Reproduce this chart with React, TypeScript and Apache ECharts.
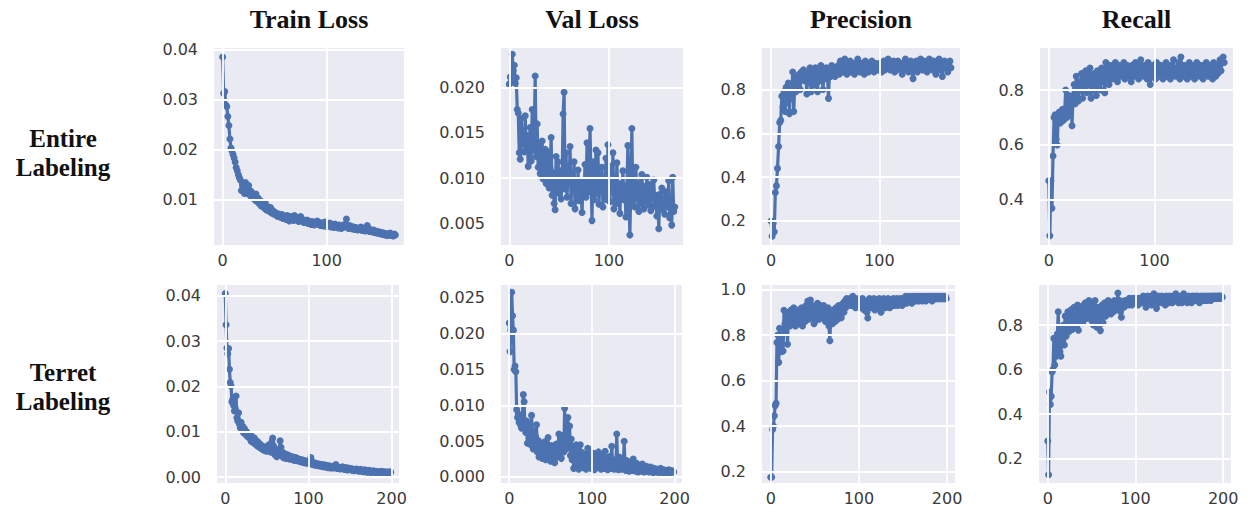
import React, { useEffect, useRef } from "react";
import * as echarts from "echarts";

// ---- Data (one value per epoch) ----
const colTitles = ["Train Loss", "Val Loss", "Precision", "Recall"];
const rowTitles = ["Entire\nLabeling", "Terret\nLabeling"];

const entireTrainLoss = [
  0.0385, 0.0312, 0.0316, 0.0289, 0.0286, 0.0266, 0.0248, 0.0221, 0.0203, 0.0197,
  0.0190, 0.0183, 0.0175, 0.0164, 0.0158, 0.0150, 0.0144, 0.0139, 0.0118, 0.0131,
  0.0125, 0.0112, 0.0134, 0.0121, 0.0113, 0.0128, 0.0109, 0.0117, 0.0104, 0.0112,
  0.0108, 0.0099, 0.0111, 0.0096, 0.0103, 0.0092, 0.0098, 0.0087, 0.0095, 0.0090,
  0.0083, 0.0093, 0.0079, 0.0086, 0.0081, 0.0076, 0.0084, 0.0073, 0.0078, 0.0071,
  0.0075, 0.0069, 0.0072, 0.0066, 0.0071, 0.0068, 0.0064, 0.0070, 0.0062, 0.0067,
  0.0065, 0.0060, 0.0068, 0.0063, 0.0057, 0.0066, 0.0061, 0.0064, 0.0058, 0.0068,
  0.0062, 0.0059, 0.0064, 0.0056, 0.0061, 0.0066, 0.0057, 0.0060, 0.0054, 0.0058,
  0.0055, 0.0059, 0.0052, 0.0057, 0.0054, 0.0050, 0.0056, 0.0053, 0.0049, 0.0055,
  0.0052, 0.0057, 0.0050, 0.0054, 0.0048, 0.0053, 0.0051, 0.0047, 0.0055, 0.0050,
  0.0046, 0.0052, 0.0049, 0.0053, 0.0045, 0.0050, 0.0047, 0.0044, 0.0051, 0.0046,
  0.0048, 0.0043, 0.0049, 0.0045, 0.0042, 0.0047, 0.0044, 0.0050, 0.0046, 0.0061,
  0.0045, 0.0042, 0.0048, 0.0043, 0.0046, 0.0041, 0.0045, 0.0040, 0.0044, 0.0042,
  0.0039, 0.0043, 0.0040, 0.0045, 0.0038, 0.0042, 0.0039, 0.0037, 0.0041, 0.0048,
  0.0038, 0.0036, 0.0040, 0.0037, 0.0035, 0.0039, 0.0034, 0.0037, 0.0033, 0.0036,
  0.0032, 0.0035, 0.0031, 0.0034, 0.0030, 0.0033, 0.0029, 0.0032, 0.0028, 0.0031,
  0.0029, 0.0033, 0.0028, 0.0030, 0.0027, 0.0031, 0.0029,
];

const entireValLoss = [
  0.0204, 0.0212, 0.0206, 0.0237, 0.0219, 0.0225, 0.0205, 0.0211, 0.0176, 0.0172,
  0.0128, 0.0121, 0.0166, 0.0138, 0.0152, 0.0129, 0.0169, 0.0133, 0.0147, 0.0113,
  0.0142, 0.0156, 0.0119, 0.0176, 0.0131, 0.0148, 0.0213, 0.0124, 0.0160, 0.0112,
  0.0138, 0.0105, 0.0126, 0.0141, 0.0099, 0.0122, 0.0132, 0.0094, 0.0117, 0.0129,
  0.0089, 0.0111, 0.0145, 0.0081, 0.0106, 0.0072, 0.0065, 0.0124, 0.0091, 0.0118,
  0.0083, 0.0108, 0.0077, 0.0096, 0.0171, 0.0195, 0.0088, 0.0128, 0.0079, 0.0112,
  0.0094, 0.0135, 0.0072, 0.0101, 0.0087, 0.0118, 0.0066, 0.0092, 0.0083, 0.0109,
  0.0075, 0.0097, 0.0088, 0.0062, 0.0094, 0.0081, 0.0115, 0.0079, 0.0139, 0.0093,
  0.0085, 0.0155, 0.0102, 0.0053, 0.0118, 0.0076, 0.0097, 0.0131, 0.0083, 0.0128,
  0.0071, 0.0104, 0.0089, 0.0112, 0.0068, 0.0095, 0.0082, 0.0122, 0.0076, 0.0137,
  0.0091, 0.0074, 0.0113, 0.0085, 0.0128, 0.0066, 0.0098, 0.0079, 0.0117, 0.0072,
  0.0089, 0.0061, 0.0094, 0.0083, 0.0108, 0.0076, 0.0088, 0.0057, 0.0092, 0.0136,
  0.0081, 0.0037, 0.0090, 0.0155, 0.0074, 0.0098, 0.0068, 0.0112, 0.0079, 0.0087,
  0.0063, 0.0095, 0.0072, 0.0104, 0.0081, 0.0066, 0.0091, 0.0075, 0.0101, 0.0083,
  0.0070, 0.0093, 0.0064, 0.0088, 0.0078, 0.0098, 0.0069, 0.0081, 0.0058, 0.0075,
  0.0044, 0.0082, 0.0071, 0.0089, 0.0065, 0.0077, 0.0060, 0.0085, 0.0068, 0.0074,
  0.0097, 0.0056, 0.0072, 0.0048, 0.0101, 0.0063, 0.0068,
];

const entirePrecision = [
  0.20, 0.13, 0.19, 0.15, 0.33, 0.36, 0.44, 0.54, 0.65, 0.66,
  0.77, 0.72, 0.79, 0.70, 0.81, 0.74, 0.83, 0.69, 0.80, 0.76,
  0.88, 0.70, 0.84, 0.79, 0.86, 0.81, 0.87, 0.80, 0.88, 0.85,
  0.89, 0.84, 0.87, 0.78, 0.88, 0.83, 0.90, 0.79, 0.86, 0.89,
  0.82, 0.90, 0.87, 0.79, 0.88, 0.84, 0.91, 0.86, 0.80, 0.89,
  0.85, 0.90, 0.87, 0.76, 0.88, 0.86, 0.91, 0.87, 0.89, 0.86,
  0.90, 0.88, 0.91, 0.87, 0.93, 0.89, 0.92, 0.88, 0.94, 0.90,
  0.87, 0.91, 0.89, 0.93, 0.88, 0.90, 0.92, 0.87, 0.91, 0.89,
  0.94, 0.90, 0.88, 0.92, 0.89, 0.91, 0.87, 0.93, 0.90, 0.92,
  0.88, 0.91, 0.89, 0.93, 0.90, 0.88, 0.92, 0.90, 0.91, 0.89,
  0.92, 0.90, 0.88, 0.91, 0.93, 0.89, 0.92, 0.90, 0.94, 0.91,
  0.89, 0.92, 0.90, 0.93, 0.88, 0.91, 0.89, 0.93, 0.91, 0.90,
  0.92, 0.87, 0.91, 0.89, 0.94, 0.90, 0.92, 0.88, 0.91, 0.93,
  0.89, 0.85, 0.91, 0.90, 0.93, 0.88, 0.92, 0.90, 0.94, 0.91,
  0.89, 0.93, 0.90, 0.92, 0.88, 0.91, 0.94, 0.90, 0.92, 0.89,
  0.93, 0.91, 0.87, 0.92, 0.90, 0.94, 0.89, 0.92, 0.86, 0.91,
  0.93, 0.90, 0.92, 0.88, 0.91, 0.93, 0.90,
];

const entireRecall = [
  0.47, 0.27, 0.47, 0.37, 0.56, 0.70, 0.71, 0.62, 0.60, 0.70,
  0.72, 0.68, 0.71, 0.73, 0.69, 0.72, 0.80, 0.70, 0.74, 0.78,
  0.71, 0.76, 0.67, 0.78, 0.82, 0.75, 0.85, 0.79, 0.76, 0.83,
  0.80, 0.86, 0.77, 0.84, 0.81, 0.87, 0.79, 0.85, 0.82, 0.88,
  0.77, 0.84, 0.80, 0.86, 0.83, 0.78, 0.87, 0.82, 0.85, 0.80,
  0.88, 0.83, 0.86, 0.79, 0.90, 0.84, 0.87, 0.82, 0.89, 0.86,
  0.84, 0.88, 0.85, 0.90, 0.86, 0.83, 0.89, 0.87, 0.85, 0.88,
  0.86, 0.90, 0.84, 0.87, 0.89, 0.85, 0.88, 0.86, 0.83, 0.89,
  0.87, 0.85, 0.90, 0.86, 0.88, 0.84, 0.89, 0.91, 0.86, 0.88,
  0.85, 0.89, 0.87, 0.84, 0.90, 0.86, 0.82, 0.88, 0.85, 0.89,
  0.87, 0.84, 0.90, 0.86, 0.88, 0.85, 0.89, 0.87, 0.84, 0.88,
  0.86, 0.90, 0.85, 0.88, 0.87, 0.84, 0.89, 0.86, 0.91, 0.87,
  0.85, 0.88, 0.86, 0.90, 0.84, 0.92, 0.87, 0.85, 0.89, 0.86,
  0.88, 0.84, 0.87, 0.90, 0.85, 0.89, 0.86, 0.88, 0.84, 0.87,
  0.90, 0.86, 0.88, 0.85, 0.89, 0.87, 0.84, 0.88, 0.86, 0.90,
  0.87, 0.85, 0.89, 0.86, 0.88, 0.84, 0.90, 0.87, 0.85, 0.89,
  0.86, 0.88, 0.91, 0.87, 0.90, 0.92, 0.90,
];

const terretTrainLoss = [
  0.0405, 0.0336, 0.0285, 0.0272, 0.0284, 0.0238, 0.0209, 0.0201, 0.0166, 0.0172,
  0.0158, 0.0146, 0.0152, 0.0179, 0.0131, 0.0124, 0.0142, 0.0117, 0.0109, 0.0121,
  0.0104, 0.0112, 0.0098, 0.0107, 0.0095, 0.0101, 0.0091, 0.0097, 0.0088, 0.0093,
  0.0085, 0.0079, 0.0090, 0.0082, 0.0076, 0.0086, 0.0073, 0.0081, 0.0070, 0.0078,
  0.0067, 0.0074, 0.0065, 0.0071, 0.0062, 0.0068, 0.0060, 0.0066, 0.0058, 0.0064,
  0.0057, 0.0063, 0.0071, 0.0060, 0.0066, 0.0055, 0.0078, 0.0086, 0.0069, 0.0062,
  0.0049, 0.0058, 0.0045, 0.0054, 0.0061, 0.0050, 0.0080, 0.0066, 0.0047, 0.0055,
  0.0043, 0.0052, 0.0046, 0.0041, 0.0050, 0.0044, 0.0048, 0.0040, 0.0046, 0.0042,
  0.0039, 0.0045, 0.0041, 0.0037, 0.0043, 0.0038, 0.0042, 0.0036, 0.0040, 0.0035,
  0.0039, 0.0034, 0.0038, 0.0033, 0.0037, 0.0032, 0.0036, 0.0031, 0.0035, 0.0033,
  0.0030, 0.0034, 0.0029, 0.0043, 0.0033, 0.0028, 0.0032, 0.0027, 0.0031, 0.0026,
  0.0030, 0.0028, 0.0025, 0.0029, 0.0027, 0.0024, 0.0028, 0.0025, 0.0023, 0.0027,
  0.0024, 0.0022, 0.0026, 0.0023, 0.0021, 0.0025, 0.0022, 0.0020, 0.0024, 0.0021,
  0.0023, 0.0020, 0.0022, 0.0028, 0.0021, 0.0019, 0.0022, 0.0020, 0.0018, 0.0021,
  0.0019, 0.0023, 0.0018, 0.0020, 0.0017, 0.0021, 0.0019, 0.0016, 0.0020, 0.0018,
  0.0017, 0.0019, 0.0015, 0.0018, 0.0016, 0.0014, 0.0017, 0.0015, 0.0018, 0.0014,
  0.0016, 0.0013, 0.0015, 0.0017, 0.0013, 0.0015, 0.0012, 0.0014, 0.0016, 0.0012,
  0.0014, 0.0011, 0.0013, 0.0015, 0.0012, 0.0010, 0.0013, 0.0011, 0.0014, 0.0012,
  0.0010, 0.0013, 0.0011, 0.0012, 0.0009, 0.0012, 0.0010, 0.0011, 0.0013, 0.0010,
  0.0011, 0.0009, 0.0012, 0.0010, 0.0011, 0.0009, 0.0010, 0.0012, 0.0010, 0.0011,
];

const terretValLoss = [
  0.0215, 0.0175, 0.0205, 0.0258, 0.0225, 0.0205, 0.0150, 0.0155, 0.0147, 0.0094,
  0.0083, 0.0088, 0.0076, 0.0079, 0.0072, 0.0068, 0.0086, 0.0115, 0.0105, 0.0070,
  0.0062, 0.0078, 0.0047, 0.0066, 0.0054, 0.0071, 0.0045, 0.0086, 0.0058, 0.0039,
  0.0064, 0.0042, 0.0056, 0.0073, 0.0035, 0.0051, 0.0028, 0.0048, 0.0033, 0.0045,
  0.0026, 0.0041, 0.0032, 0.0049, 0.0024, 0.0038, 0.0030, 0.0055, 0.0027, 0.0036,
  0.0022, 0.0044, 0.0031, 0.0025, 0.0040, 0.0020, 0.0034, 0.0046, 0.0028, 0.0037,
  0.0060, 0.0032, 0.0052, 0.0026, 0.0041, 0.0058, 0.0035, 0.0096, 0.0048, 0.0039,
  0.0066, 0.0083, 0.0044, 0.0071, 0.0030, 0.0053, 0.0024, 0.0040, 0.0012, 0.0033,
  0.0021, 0.0045, 0.0016, 0.0038, 0.0011, 0.0029, 0.0045, 0.0018, 0.0034, 0.0013,
  0.0027, 0.0015, 0.0032, 0.0011, 0.0025, 0.0040, 0.0014, 0.0036, 0.0019, 0.0012,
  0.0028, 0.0016, 0.0033, 0.0010, 0.0024, 0.0013, 0.0030, 0.0017, 0.0035, 0.0014,
  0.0026, 0.0011, 0.0031, 0.0018, 0.0023, 0.0012, 0.0036, 0.0015, 0.0027, 0.0010,
  0.0021, 0.0014, 0.0029, 0.0012, 0.0043, 0.0017, 0.0024, 0.0011, 0.0019, 0.0013,
  0.0060, 0.0022, 0.0010, 0.0028, 0.0015, 0.0020, 0.0011, 0.0026, 0.0014, 0.0050,
  0.0017, 0.0009, 0.0023, 0.0013, 0.0019, 0.0008, 0.0021, 0.0012, 0.0016, 0.0009,
  0.0025, 0.0011, 0.0015, 0.0008, 0.0019, 0.0012, 0.0007, 0.0016, 0.0010, 0.0014,
  0.0008, 0.0018, 0.0011, 0.0007, 0.0013, 0.0009, 0.0015, 0.0008, 0.0012, 0.0007,
  0.0011, 0.0014, 0.0008, 0.0010, 0.0006, 0.0012, 0.0009, 0.0007, 0.0011, 0.0008,
  0.0010, 0.0006, 0.0009, 0.0012, 0.0007, 0.0009, 0.0006, 0.0010, 0.0008, 0.0007,
  0.0009, 0.0006, 0.0008, 0.0010, 0.0007, 0.0006, 0.0009, 0.0007, 0.0008, 0.0007,
];

const terretPrecision = [
  0.175, 0.175, 0.385, 0.40, 0.445, 0.49, 0.50, 0.767, 0.80, 0.68,
  0.83, 0.78, 0.727, 0.80, 0.73, 0.909, 0.85, 0.82, 0.88, 0.76,
  0.90, 0.86, 0.84, 0.91, 0.87, 0.85, 0.92, 0.88, 0.84, 0.90,
  0.86, 0.91, 0.85, 0.89, 0.87, 0.92, 0.84, 0.90, 0.88, 0.86,
  0.93, 0.89, 0.95, 0.87, 0.91, 0.954, 0.88, 0.93, 0.90, 0.85,
  0.86, 0.92, 0.89, 0.94, 0.90, 0.87, 0.93, 0.91, 0.88, 0.92,
  0.93, 0.89, 0.86, 0.91, 0.88, 0.92, 0.84, 0.775, 0.87, 0.90,
  0.85, 0.91, 0.88, 0.86, 0.92, 0.89, 0.87, 0.93, 0.90, 0.88,
  0.876, 0.92, 0.94, 0.90, 0.95, 0.92, 0.96, 0.93, 0.95, 0.94,
  0.96, 0.93, 0.95, 0.97, 0.94, 0.96, 0.92, 0.95, 0.93, 0.96,
  0.94, 0.92, 0.95, 0.93, 0.96, 0.94, 0.91, 0.95, 0.93, 0.90,
  0.875, 0.93, 0.96, 0.94, 0.92, 0.95, 0.93, 0.96, 0.91, 0.94,
  0.95, 0.92, 0.94, 0.96, 0.93, 0.90, 0.95, 0.93, 0.96, 0.94,
  0.92, 0.95, 0.93, 0.96, 0.94, 0.92, 0.95, 0.93, 0.94, 0.96,
  0.93, 0.95, 0.94, 0.96, 0.93, 0.95, 0.94, 0.96, 0.95, 0.93,
  0.96, 0.94, 0.95, 0.97, 0.94, 0.96, 0.95, 0.97, 0.95, 0.96,
  0.94, 0.97, 0.95, 0.96, 0.97, 0.95, 0.96, 0.97, 0.95, 0.96,
  0.97, 0.96, 0.95, 0.97, 0.96, 0.97, 0.95, 0.96, 0.97, 0.96,
  0.97, 0.96, 0.97, 0.95, 0.96, 0.97, 0.96, 0.97, 0.96, 0.97,
  0.96, 0.97, 0.96, 0.97, 0.96, 0.97, 0.96, 0.96, 0.97, 0.96,
];

const terretRecall = [
  0.279, 0.127, 0.499, 0.443, 0.48, 0.589, 0.60, 0.74, 0.62, 0.70,
  0.66, 0.76, 0.86, 0.72, 0.68, 0.66, 0.78, 0.73, 0.80, 0.71,
  0.84, 0.75, 0.82, 0.86, 0.77, 0.85, 0.80, 0.87, 0.78, 0.84,
  0.88, 0.82, 0.86, 0.79, 0.89, 0.777, 0.85, 0.88, 0.83, 0.87,
  0.81, 0.89, 0.85, 0.90, 0.83, 0.88, 0.86, 0.91, 0.84, 0.89,
  0.82, 0.90, 0.80, 0.87, 0.91, 0.84, 0.79, 0.88, 0.83, 0.86,
  0.775, 0.85, 0.89, 0.81, 0.87, 0.90, 0.84, 0.88, 0.86, 0.91,
  0.87, 0.89, 0.85, 0.90, 0.88, 0.86, 0.91, 0.89, 0.87, 0.90,
  0.944, 0.88, 0.91, 0.86, 0.835, 0.89, 0.90, 0.88, 0.91, 0.89,
  0.90, 0.91, 0.89, 0.92, 0.90, 0.91, 0.89, 0.92, 0.90, 0.91,
  0.92, 0.90, 0.91, 0.89, 0.92, 0.91, 0.90, 0.92, 0.91, 0.93,
  0.90, 0.92, 0.88, 0.91, 0.93, 0.90, 0.92, 0.91, 0.89, 0.93,
  0.91, 0.94, 0.90, 0.92, 0.875, 0.91, 0.93, 0.90, 0.92, 0.91,
  0.93, 0.90, 0.92, 0.91, 0.89, 0.93, 0.91, 0.92, 0.90, 0.93,
  0.91, 0.92, 0.90, 0.93, 0.91, 0.92, 0.94, 0.91, 0.93, 0.90,
  0.92, 0.91, 0.93, 0.90, 0.92, 0.94, 0.91, 0.93, 0.92, 0.90,
  0.92, 0.93, 0.91, 0.92, 0.90, 0.93, 0.92, 0.91, 0.93, 0.92,
  0.91, 0.93, 0.92, 0.90, 0.92, 0.93, 0.91, 0.92, 0.93, 0.91,
  0.92, 0.93, 0.91, 0.92, 0.93, 0.92, 0.91, 0.93, 0.92, 0.93,
  0.92, 0.93, 0.92, 0.93, 0.92, 0.93, 0.93, 0.92, 0.93, 0.925,
];

// tick labels
const xTicksEntire = [0, 100];
const xTicksTerret = [0, 100, 200];
const yTicksTrainEntire = [0.01, 0.02, 0.03, 0.04];
const yTicksValEntire = [0.005, 0.01, 0.015, 0.02];
const yTicksPrecEntire = [0.2, 0.4, 0.6, 0.8];
const yTicksRecEntire = [0.4, 0.6, 0.8];
const yTicksTrainTerret = [0, 0.01, 0.02, 0.03, 0.04];
const yTicksValTerret = [0, 0.005, 0.01, 0.015, 0.02, 0.025];
const yTicksPrecTerret = [0.2, 0.4, 0.6, 0.8, 1.0];
const yTicksRecTerret = [0.2, 0.4, 0.6, 0.8];

// ---- layout ----
const panels = [
  { data: entireTrainLoss, grid: [214, 48, 190, 197], x: [-8.3, 174.3], y: [0.0009, 0.0403], xt: xTicksEntire, yt: yTicksTrainEntire, dec: 2 },
  { data: entireValLoss, grid: [501, 48, 182, 197], x: [-8.3, 174.3], y: [0.0026, 0.0244], xt: xTicksEntire, yt: yTicksValEntire, dec: 3 },
  { data: entirePrecision, grid: [762, 48, 198, 197], x: [-8.3, 174.3], y: [0.09, 0.99], xt: xTicksEntire, yt: yTicksPrecEntire, dec: 1 },
  { data: entireRecall, grid: [1040, 48, 193, 197], x: [-8.3, 174.3], y: [0.236, 0.953], xt: xTicksEntire, yt: yTicksRecEntire, dec: 1 },
  { data: terretTrainLoss, grid: [217, 285, 182, 198], x: [-9.95, 208.95], y: [-0.0013, 0.0424], xt: xTicksTerret, yt: yTicksTrainTerret, dec: 2 },
  { data: terretValLoss, grid: [501, 285, 181, 198], x: [-9.95, 208.95], y: [-0.00084, 0.0268], xt: xTicksTerret, yt: yTicksValTerret, dec: 3 },
  { data: terretPrecision, grid: [762, 285, 193, 198], x: [-9.95, 208.95], y: [0.15, 1.02], xt: xTicksTerret, yt: yTicksPrecTerret, dec: 1 },
  { data: terretRecall, grid: [1039, 285, 192, 198], x: [-9.95, 208.95], y: [0.09, 0.98], xt: xTicksTerret, yt: yTicksRecTerret, dec: 1 },
];

const BLUE = "#4C72B0";
const BG = "#EAEAF2";
const LABEL = "#3a3a3a";
const TICK_FONT = "DejaVu Sans";
const SERIF = "'Liberation Serif', 'Times New Roman', serif";

export default function App() {
  const ref = useRef<HTMLDivElement>(null);

  useEffect(() => {
    if (!ref.current) return;
    const chart = echarts.init(ref.current, undefined, { renderer: "svg" });

    const grid = panels.map((p) => ({
      left: p.grid[0],
      top: p.grid[1],
      width: p.grid[2],
      height: p.grid[3],
      show: true,
      backgroundColor: BG,
      borderWidth: 0,
    }));

    const xAxis = panels.map((p, i) => ({
      type: "value",
      gridIndex: i,
      min: p.x[0],
      max: p.x[1],
      axisLine: { show: false },
      axisTick: { show: false },
      splitLine: { show: false },
      axisLabel: {
        customValues: p.xt,
        color: LABEL,
        fontFamily: TICK_FONT,
        fontSize: 16,
        margin: 7,
        formatter: (v: number) => String(Math.round(v)),
      },
    }));

    const yAxis = panels.map((p, i) => ({
      type: "value",
      gridIndex: i,
      min: p.y[0],
      max: p.y[1],
      axisLine: { show: false },
      axisTick: { show: false },
      splitLine: { show: false },
      axisLabel: {
        customValues: p.yt,
        color: LABEL,
        fontFamily: TICK_FONT,
        fontSize: 16,
        margin: 16,
        formatter: (v: number) => v.toFixed(p.dec),
      },
    }));

    const series: any[] = [];
    panels.forEach((p, i) => {
      series.push({
        type: "line",
        xAxisIndex: i,
        yAxisIndex: i,
        data: [],
        z: 1,
        silent: true,
        markLine: {
          silent: true,
          symbol: ["none", "none"],
          label: { show: false },
          lineStyle: { color: "#ffffff", width: 1.8, type: "solid" },
          data: [
            ...p.yt.map((v) => ({ yAxis: v })),
            ...p.xt.map((v) => ({ xAxis: v })),
          ],
        },
      });
      series.push({
        type: "line",
        xAxisIndex: i,
        yAxisIndex: i,
        z: 3,
        data: p.data.map((v, k) => [k, v]),
        symbol: "circle",
        symbolSize: 7,
        showSymbol: true,
        showAllSymbol: true,
        itemStyle: { color: BLUE, borderWidth: 0 },
        lineStyle: { color: BLUE, width: 3.2 },
        clip: true,
      });
    });

    const graphic: any[] = [];
    colTitles.forEach((t, i) => {
      const g = panels[i].grid;
      graphic.push({
        type: "text",
        x: g[0] + g[2] / 2,
        y: 19,
        style: {
          text: t,
          font: `bold 26px ${SERIF}`,
          fill: "#111",
          align: "center",
          verticalAlign: "middle",
          textAlign: "center",
          textVerticalAlign: "middle",
        },
      });
    });
    rowTitles.forEach((t, i) => {
      graphic.push({
        type: "text",
        x: 63,
        y: i === 0 ? 153 : 387,
        style: {
          text: t,
          font: `bold 25px ${SERIF}`,
          lineHeight: 29,
          fill: "#111",
          align: "center",
          verticalAlign: "middle",
          textAlign: "center",
          textVerticalAlign: "middle",
        },
      });
    });

    chart.setOption({
      animation: false,
      backgroundColor: "#ffffff",
      grid,
      xAxis,
      yAxis,
      series,
      graphic,
    });

    return () => chart.dispose();
  }, []);

  return (
    <div
      ref={ref}
      style={{ position: "fixed", left: 0, top: 0, width: 1253, height: 512 }}
    />
  );
}
